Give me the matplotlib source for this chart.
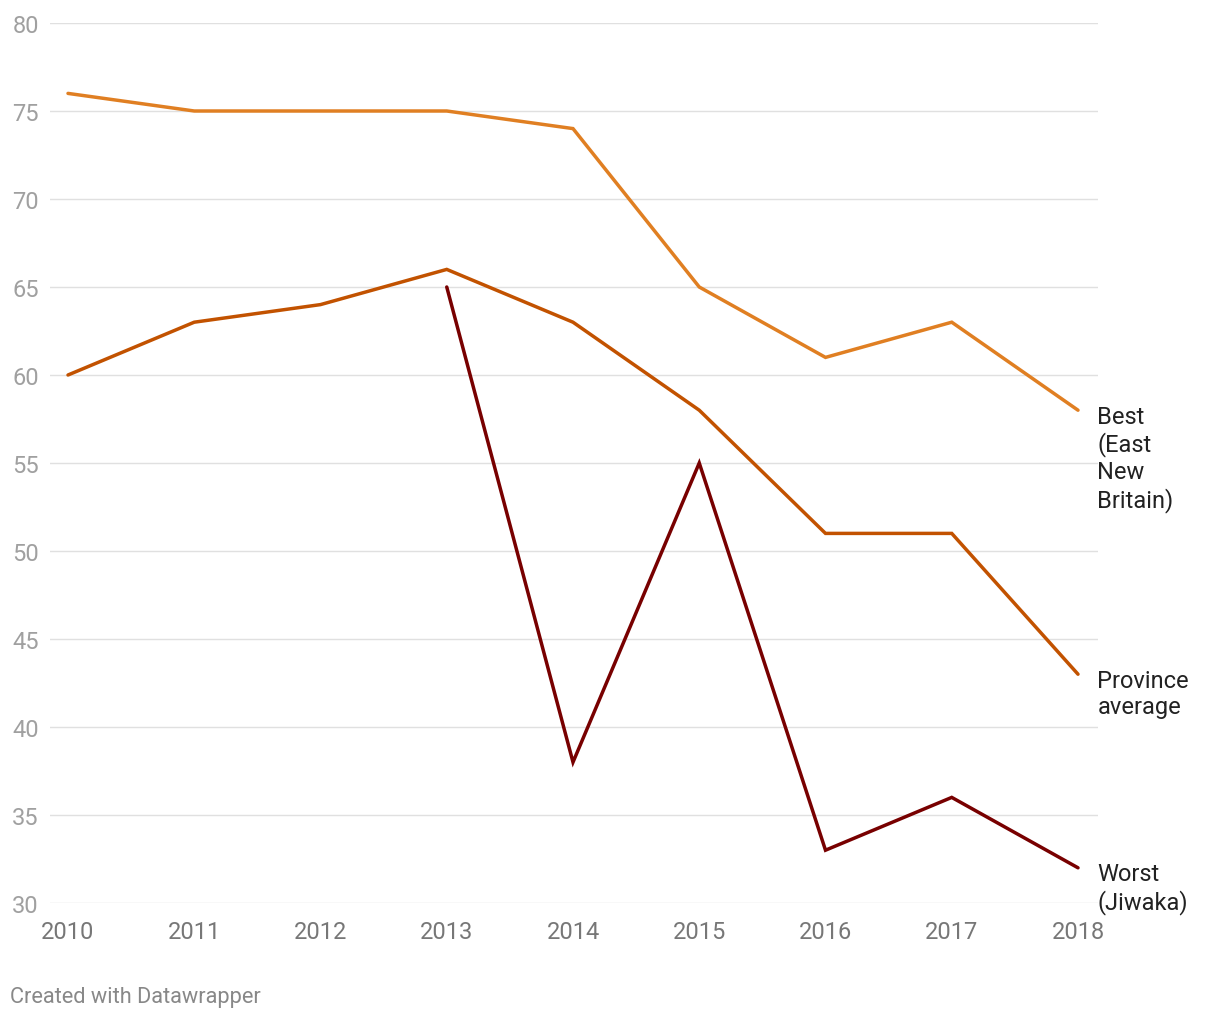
import matplotlib.pyplot as plt
import numpy as np

years = [2010, 2011, 2012, 2013, 2014, 2015, 2016, 2017, 2018]
best = [76, 75, 75, 75, 74, 65, 61, 63, 58]
province = [60, 63, 64, 66, 63, 58, 51, 51, 43]
worst = [np.nan, np.nan, np.nan, 65, 38, 55, 33, 36, 32]

labels = ["Best\n(East\nNew\nBritain)", "Province\naverage", "Worst\n(Jiwaka)"]
colors = ["#e07f22", "#c25200", "#780000"]
yticks = [30, 35, 40, 45, 50, 55, 60, 65, 70, 75, 80]

plt.rcParams['font.family'] = ['Roboto', 'DejaVu Sans']

fig = plt.figure(figsize=(12.2, 10.2), dpi=100)
ax = fig.add_axes([50 / 1220, 116 / 1020, 1048 / 1220, 880 / 1020])

for vals, c, lab in zip([best, province, worst], colors, labels):
    ax.plot(years, vals, color=c, lw=2.5, solid_capstyle='round', solid_joinstyle='miter', zorder=3)
    ax.annotate(lab, xy=(years[-1], vals[-1]), xytext=(14, 4), textcoords='offset points',
                va='top', ha='left', fontsize=17, color='#222222', linespacing=1.2,
                annotation_clip=False)

ax.set_xlim(2010 - 18 / 126.25, 2018 + 20 / 126.25)
ax.set_ylim(30, 80)
ax.set_yticks(yticks)
ax.set_xticks(years)
ax.grid(axis='y', color='#e0e0e0', lw=1)
ax.set_axisbelow(True)
for s in ax.spines.values():
    s.set_visible(False)
ax.tick_params(axis='y', length=0, pad=8, labelsize=17, labelcolor='#a0a0a0')
ax.tick_params(axis='x', length=0, pad=12, labelsize=17, labelcolor='#777777')

fig.text(10 / 1220, 1 - 998 / 1020, "Created with Datawrapper", fontsize=15.7,
         color='#888888', va='center', ha='left')

fig.savefig("out.png", dpi=100)
